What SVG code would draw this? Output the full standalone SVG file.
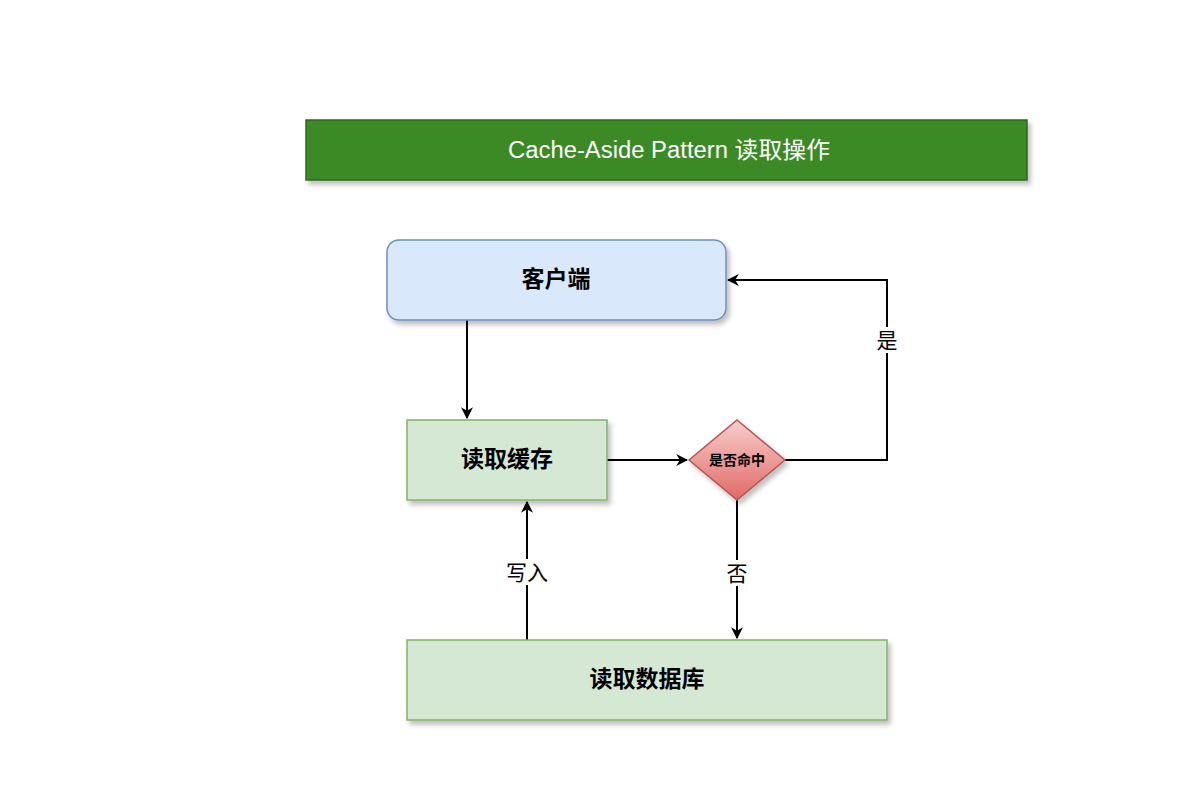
<svg xmlns="http://www.w3.org/2000/svg" width="1194" height="786" viewBox="0 0 1194 786">
<style>
.t{font-family:"Liberation Sans","Noto Sans CJK SC",sans-serif;text-anchor:middle;dominant-baseline:central}
.n{font-size:23px;font-weight:bold;fill:#000}
.lbl{font-size:21px;fill:#000}
.edge{fill:none;stroke:#000;stroke-width:2}
</style>
<defs>
<filter id="sh" x="-10%" y="-10%" width="130%" height="140%">
<feDropShadow dx="3" dy="4" stdDeviation="2.5" flood-color="#000" flood-opacity="0.25"/>
</filter>
<linearGradient id="rg" x1="0" y1="0" x2="0" y2="1">
<stop offset="0" stop-color="#f8cecc"/>
<stop offset="1" stop-color="#e06a66"/>
</linearGradient>
<marker id="ar" viewBox="0 0 10 10" refX="9" refY="5" markerWidth="12" markerHeight="12" markerUnits="userSpaceOnUse" orient="auto">
<path d="M0,0 L10,5 L0,10 L3,5 Z" fill="#000"/>
</marker>
</defs>
<rect width="1194" height="786" fill="#fff"/>
<g id="title">
<rect x="306" y="120" width="721" height="60" fill="#3b8a25" stroke="#2d6a1e" stroke-width="1.5" filter="url(#sh)"/>
<text class="t" x="669" y="150" font-size="23" fill="#fff" textLength="322" lengthAdjust="spacingAndGlyphs">Cache-Aside Pattern 读取操作</text>
</g>
<g id="connectors">
<path class="edge" d="M467,320 V418" marker-end="url(#ar)"/>
<path class="edge" d="M607,460 H687" marker-end="url(#ar)"/>
<path class="edge" d="M785,460 H887 V280 H728" marker-end="url(#ar)"/>
<path class="edge" d="M737,500 V638" marker-end="url(#ar)"/>
<path class="edge" d="M527,640 V502" marker-end="url(#ar)"/>
<rect x="875" y="327" width="24" height="26" fill="#fff"/>
<text class="t lbl" x="887" y="340">是</text>
<rect x="725" y="560" width="24" height="26" fill="#fff"/>
<text class="t lbl" x="737" y="573">否</text>
<rect x="503" y="559" width="48" height="26" fill="#fff"/>
<text class="t lbl" x="527" y="572">写入</text>
</g>
<g id="client">
<rect x="387" y="240" width="339" height="80" rx="12" fill="#dae8fc" stroke="#6c8ebf" stroke-width="1.5" filter="url(#sh)"/>
<text class="t n" x="556" y="279">客户端</text>
</g>
<g id="readCache">
<rect x="407" y="420" width="200" height="80" fill="#d5e8d4" stroke="#82b366" stroke-width="1.5" filter="url(#sh)"/>
<text class="t n" x="507" y="459">读取缓存</text>
</g>
<g id="hit">
<polygon points="737,420 785,460 737,500 689,460" fill="url(#rg)" stroke="#b85450" stroke-width="1.5" filter="url(#sh)"/>
<text class="t" x="737" y="460" font-size="14" font-weight="bold">是否命中</text>
</g>
<g id="readDb">
<rect x="407" y="640" width="480" height="80" fill="#d5e8d4" stroke="#82b366" stroke-width="1.5" filter="url(#sh)"/>
<text class="t n" x="647" y="679">读取数据库</text>
</g>
</svg>
